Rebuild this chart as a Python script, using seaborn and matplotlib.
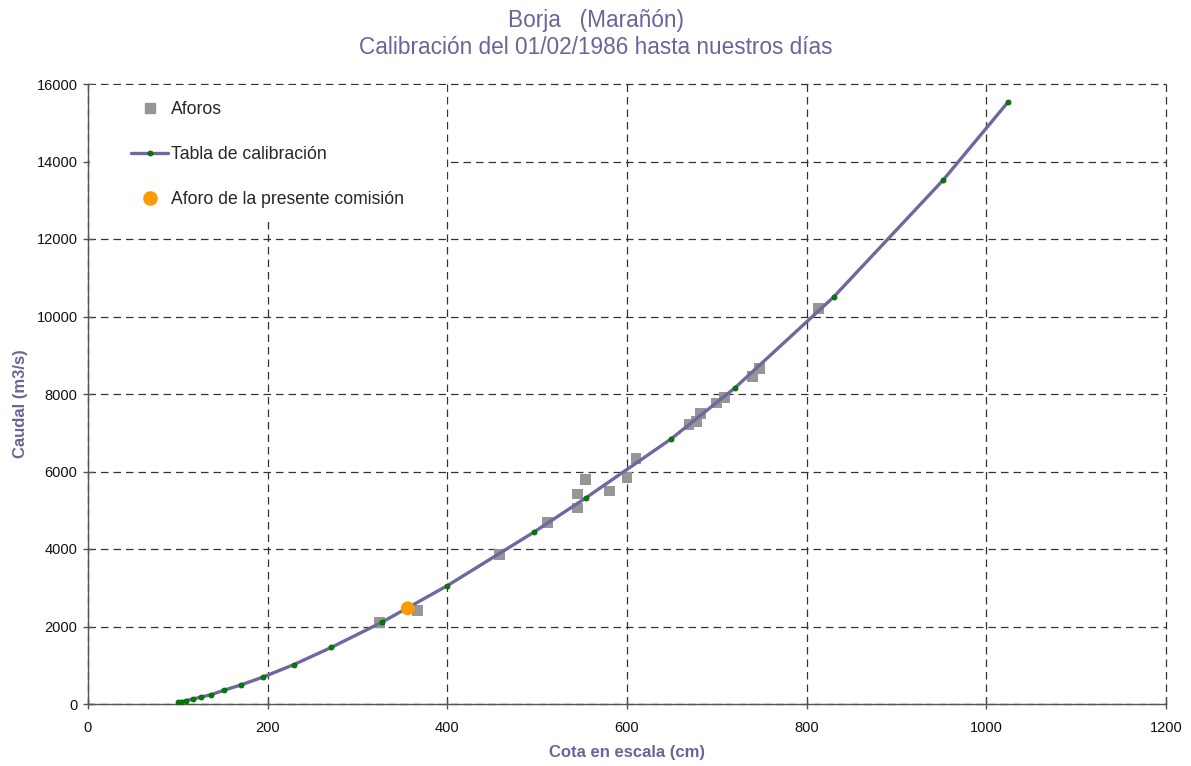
import matplotlib
matplotlib.use("Agg")
import matplotlib.pyplot as plt
from matplotlib.patches import Rectangle
from matplotlib.lines import Line2D
import seaborn as sns
import pandas as pd

# Calibration table (cota cm, caudal m3/s)
cal_cota = [100, 104, 109, 117, 126, 137, 151, 170, 195, 229, 271, 327, 400,
            496, 554, 649, 720, 830, 952, 1024]
cal_caudal = [44, 60, 86, 129, 181, 241, 353, 490, 697, 1015, 1462, 2108, 3054,
              4430, 5316, 6839, 8155, 10503, 13523, 15530]

# Aforos (gaugings)
af_cota = [325, 367, 458, 512, 545, 545, 554, 580, 600, 610,
           669, 677, 682, 700, 709, 740, 748, 813]
af_caudal = [2108, 2418, 3862, 4688, 5058, 5419, 5798, 5497, 5850, 6330,
             7218, 7295, 7502, 7768, 7914, 8457, 8663, 10211]

# Present commission gauging
pc_cota = [356]
pc_caudal = [2469]

title_lines = ["Borja   (Marañón)", "Calibración del 01/02/1986 hasta nuestros días"]
xlabel = "Cota en escala (cm)"
ylabel = "Caudal (m3/s)"
x_ticks = [0, 200, 400, 600, 800, 1000, 1200]
y_ticks = [0, 2000, 4000, 6000, 8000, 10000, 12000, 14000, 16000]

sns.set_theme(style="white")
plt.rcParams['font.family'] = ['Liberation Sans', 'DejaVu Sans']

LINE_C = "#6A6AA0"
TITLE_C = "#666699"
GRAY = "#969696"
ORANGE = "#FF9900"
GREEN = "#008000"

fig = plt.figure(figsize=(11.91, 7.66), dpi=100)
ax = fig.add_axes([88/1191, 1-704/766, (1166-88)/1191, (704-84)/766])

df_cal = pd.DataFrame({"cota": cal_cota, "caudal": cal_caudal})
df_af = pd.DataFrame({"cota": af_cota, "caudal": af_caudal})
df_pc = pd.DataFrame({"cota": pc_cota, "caudal": pc_caudal})

sns.scatterplot(data=df_af, x="cota", y="caudal", ax=ax, marker="s", s=62,
                color=GRAY, edgecolor="none", zorder=3, legend=False)
sns.lineplot(data=df_cal, x="cota", y="caudal", ax=ax, color=LINE_C, lw=2.4,
             marker="o", markersize=3.6, markerfacecolor=GREEN,
             markeredgecolor="#006400", markeredgewidth=0.6, zorder=4,
             sort=False, estimator=None, legend=False)
sns.scatterplot(data=df_pc, x="cota", y="caudal", ax=ax, marker="o", s=100,
                color=ORANGE, edgecolor="none", zorder=5, legend=False)

ax.set_xlim(0, 1200)
ax.set_ylim(0, 16000)
ax.set_xticks(x_ticks)
ax.set_yticks(y_ticks)
ax.grid(True, color="#333333", linestyle=(0, (6, 4)), linewidth=0.9, zorder=0)
for gl in ax.get_xgridlines() + ax.get_ygridlines():
    gl.set_clip_on(False)
ax.set_axisbelow(True)
for s in ["top", "right"]:
    ax.spines[s].set_visible(False)
for s in ["left", "bottom"]:
    ax.spines[s].set_color("#555555")
    ax.spines[s].set_linewidth(1.0)
ax.tick_params(axis="both", which="both", direction="inout", length=7, width=1,
               color="#555555", labelsize=10.5, labelcolor="#111111", pad=4,
               left=True, bottom=True)
ax.tick_params(axis="x", pad=9)

ax.set_xlabel(xlabel, fontsize=12, fontweight="bold", color=TITLE_C, labelpad=7)
ax.set_ylabel(ylabel, fontsize=12, fontweight="bold", color=TITLE_C, labelpad=8)
ax.yaxis.set_label_coords(-0.0555, 0.485)

fig.text(0.5, 1-20/766, title_lines[0], ha="center", va="center",
         fontsize=16.3, color=TITLE_C)
fig.text(0.5, 1-48/766, title_lines[1], ha="center", va="center",
         fontsize=16.3, color=TITLE_C)

# white box behind legend covering grid
ax.add_patch(Rectangle((0.002, 0.785), 0.331, 0.214, transform=ax.transAxes,
                       facecolor="white", edgecolor="none", zorder=2.5))

handles = [
    Line2D([], [], linestyle="none", marker="s", markersize=7, color=GRAY),
    Line2D([], [], color=LINE_C, lw=2.4, marker="o", markersize=3.6,
           markerfacecolor=GREEN, markeredgecolor="#006400", markeredgewidth=0.6),
    Line2D([], [], linestyle="none", marker="o", markersize=9.5, color=ORANGE),
]
labels = ["Aforos", "Tabla de calibración", "Aforo de la presente comisión"]
leg = ax.legend(handles, labels, loc="upper left", bbox_to_anchor=(0.0335, 0.984),
                frameon=False, fontsize=12.7, labelspacing=1.6, handlelength=2.1,
                handletextpad=0.15, borderaxespad=0)
leg.set_zorder(6)

fig.savefig("out.png", dpi=100, facecolor="white")
